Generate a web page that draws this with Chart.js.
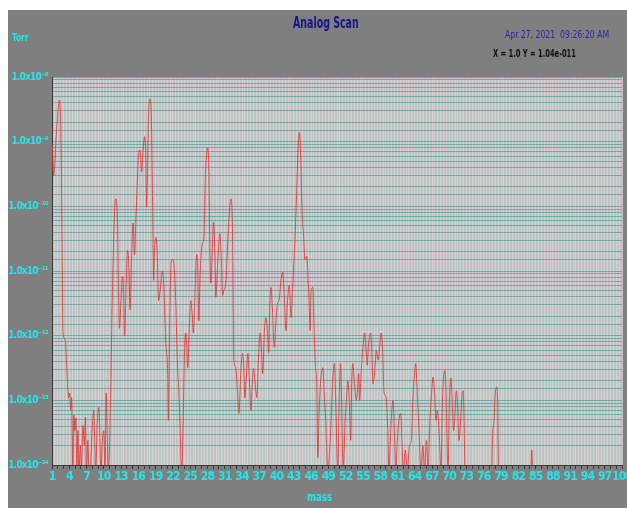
<!DOCTYPE html>
<html lang="en">
<head>
    <meta charset="UTF-8">
    <title>Analog Scan</title>
    <style>
        body {
            margin: 0;
            background: #ffffff;
            overflow: hidden;
            font-family: 'DejaVu Sans Condensed', 'Liberation Sans Narrow', 'Liberation Sans', Arial, sans-serif;
        }
        #panel {
            position: absolute;
            left: 8px;
            top: 10px;
            width: 619px;
            height: 498px;
            background: #7f7f7f;
            overflow: hidden;
        }
        #panel canvas {
            position: absolute;
            left: 0;
            top: 0;
        }
        .txt {
            position: absolute;
            white-space: pre;
            z-index: 2;
            transform-origin: left top;
        }
        #title { left: 285px; top: 4px; font-size: 15px; font-weight: bold; color: #15158c; transform: scaleX(0.7); }
        #torr { left: 4px; top: 21px; font-size: 11px; font-weight: bold; color: #22e6ea; transform: scaleX(0.75); }
        #stamp { left: 497px; top: 18px; font-size: 11px; color: #2a2aa6; transform: scaleX(0.78); }
        #readout { left: 485px; top: 37px; font-size: 11px; font-weight: bold; color: #111111; transform: scaleX(0.68); }
        #massTitle { left: 299px; top: 480px; font-size: 12px; font-weight: bold; color: #22e6ea; transform: scaleX(0.8); }
    </style>
</head>
<body>
    <div id="panel">
        <div class="txt" id="title">Analog Scan</div>
        <div class="txt" id="torr">Torr</div>
        <div class="txt" id="stamp">Apr 27, 2021  09:26:20 AM</div>
        <div class="txt" id="readout">X = 1.0 Y = 1.04e-011</div>
        <div class="txt" id="massTitle">mass</div>
        <canvas id="scan" width="640" height="498"></canvas>
    </div>

    <script src="https://cdn.jsdelivr.net/npm/chart.js@4.4.1/dist/chart.umd.min.js"></script>
    <script>
        // mass (amu) of each sample
        const masses = [
            1.05, 1.31, 1.75, 2.32, 2.53, 2.71, 2.92, 3.32, 3.58, 3.89,
            4.07, 4.24, 4.41, 4.62, 4.80, 4.97, 5.15, 5.32, 5.49, 5.67,
            5.93, 6.10, 6.37, 6.63, 6.80, 6.98, 7.24, 7.41, 7.67, 7.93,
            8.25, 8.42, 8.60, 8.81, 8.98, 9.15, 9.33, 9.50, 9.76, 9.99,
            10.20, 10.41, 10.58, 10.76, 10.98, 11.16, 11.50, 11.85, 12.06, 12.38,
            12.55, 12.72, 12.99, 13.25, 13.42, 13.60, 13.86, 14.12, 14.38, 14.55,
            14.82, 15.08, 15.34, 15.60, 15.77, 15.98, 16.21, 16.38, 16.56, 16.82,
            17.08, 17.25, 17.43, 17.60, 17.80, 18.02, 18.25, 18.47, 18.65, 18.82,
            19.05, 19.26, 19.52, 19.78, 20.16, 20.39, 20.74, 21.09, 21.21, 21.44,
            21.70, 21.96, 22.22, 22.48, 22.83, 23.00, 23.18, 23.53, 23.79, 24.05,
            24.22, 24.40, 24.57, 24.83, 25.09, 25.36, 25.56, 25.79, 26.14, 26.31,
            26.49, 26.75, 27.13, 27.36, 27.62, 28.00, 28.23, 28.40, 28.58, 28.84,
            29.05, 29.27, 29.45, 29.71, 30.15, 30.41, 30.62, 30.84, 31.19, 31.54,
            32.06, 32.32, 32.59, 32.93, 33.19, 33.46, 33.80, 34.10, 34.33, 34.50,
            34.76, 35.03, 35.29, 35.55, 35.81, 36.02, 36.25, 36.59, 36.85, 37.17,
            37.38, 37.59, 37.90, 38.16, 38.42, 38.63, 38.86, 39.03, 39.29, 39.61,
            39.90, 40.20, 40.43, 40.77, 41.07, 41.30, 41.64, 41.91, 42.22, 42.34,
            42.52, 42.78, 43.09, 43.39, 43.73, 43.96, 44.17, 44.43, 44.69, 44.95,
            45.25, 45.48, 45.65, 45.83, 46.00, 46.30, 46.52, 46.78, 46.96, 47.17,
            47.39, 47.66, 48.04, 48.26, 48.53, 48.91, 49.22, 49.48, 49.75, 50.06,
            50.27, 50.65, 50.88, 51.10, 51.31, 51.57, 51.92, 52.18, 52.39, 52.62,
            52.88, 53.06, 53.26, 53.49, 53.84, 54.05, 54.24, 54.45, 54.71, 55.01,
            55.29, 55.50, 55.76, 55.97, 56.33, 56.54, 56.75, 57.06, 57.32, 57.67,
            57.93, 58.19, 58.46, 58.67, 58.89, 59.07, 59.33, 59.50, 59.76, 60.02,
            60.23, 60.46, 60.72, 60.98, 61.24, 61.56, 61.77, 62.03, 62.38, 62.72,
            63.07, 63.42, 63.68, 63.94, 64.17, 64.38, 64.59, 64.81, 65.08, 65.42,
            65.69, 66.03, 66.30, 66.64, 66.91, 67.20, 67.42, 67.69, 67.90, 68.07,
            68.30, 68.56, 68.82, 69.00, 69.22, 69.43, 69.61, 69.78, 70.04, 70.27,
            70.48, 70.74, 70.97, 71.13, 71.26, 71.47, 71.66, 71.84, 72.05, 72.22,
            72.43, 72.57, 72.74, 75.00, 77.36, 77.53, 77.79, 77.97, 78.23, 78.40,
            78.58, 84.15, 84.33, 84.50, 100.0
        ];

        // partial pressure (Torr) at each mass; 8e-15 = below the 1e-14 floor
        const pressures = [
            8.9e-10, 3.0e-10, 1.3e-9, 4.4e-9, 1.5e-9, 6.1e-11, 1.1e-12, 8.5e-13, 2.9e-13, 1.1e-13,
            1.3e-13, 7.0e-14, 1.1e-13, 8e-15, 5.9e-14, 3.4e-14, 5.3e-14, 8e-15, 3.4e-14, 8e-15,
            2.0e-14, 8e-15, 4.1e-14, 2.0e-14, 5.5e-14, 8e-15, 2.4e-14, 8e-15, 8e-15, 2.9e-14,
            7.0e-14, 2.4e-14, 8e-15, 3.4e-14, 6.5e-14, 7.8e-14, 2.4e-14, 8e-15, 2.4e-14, 3.4e-14,
            8e-15, 1.3e-13, 3.4e-14, 8e-15, 1.7e-14, 1.0e-13, 5.0e-12, 7.3e-11, 1.3e-10, 6.1e-11,
            5.0e-12, 1.3e-12, 3.5e-12, 8.3e-12, 5.0e-12, 1.0e-12, 5.0e-12, 2.1e-11, 1.0e-11, 2.5e-12,
            1.5e-11, 5.5e-11, 1.8e-11, 7.3e-11, 1.8e-10, 5.6e-10, 7.4e-10, 6.2e-10, 3.4e-10, 7.4e-10,
            1.2e-9, 7.4e-10, 9.7e-11, 3.6e-10, 3.1e-9, 4.6e-9, 2.6e-9, 1.2e-10, 7.2e-12, 2.1e-11,
            3.3e-11, 2.1e-11, 3.5e-12, 5.0e-12, 1.0e-11, 7.2e-12, 8.5e-13, 2.6e-13, 4.9e-14, 1.2e-12,
            1.4e-11, 1.5e-11, 1.2e-11, 3.5e-12, 2.9e-13, 1.6e-13, 5.9e-14, 8e-15, 4.9e-14, 7.1e-13,
            1.1e-12, 7.1e-13, 3.2e-13, 1.2e-12, 3.5e-12, 2.1e-12, 1.1e-12, 3.5e-12, 1.8e-11, 1.2e-11,
            1.7e-12, 1.0e-11, 2.7e-11, 3.0e-11, 2.5e-10, 8.0e-10, 4.3e-10, 3.0e-11, 6.5e-12, 2.1e-11,
            5.7e-11, 2.1e-11, 3.9e-12, 1.0e-11, 3.8e-11, 1.5e-11, 4.2e-12, 5.0e-12, 6.5e-12, 3.0e-11,
            1.3e-10, 6.1e-11, 4.2e-13, 3.2e-13, 1.4e-13, 6.3e-14, 2.9e-13, 5.3e-13, 2.9e-13, 1.1e-13,
            2.4e-13, 5.3e-13, 2.0e-13, 7.0e-14, 2.0e-13, 3.1e-13, 2.0e-13, 1.1e-13, 4.2e-13, 1.1e-12,
            5.9e-13, 2.6e-13, 1.2e-12, 1.9e-12, 1.2e-12, 5.5e-13, 3.5e-12, 5.6e-12, 2.5e-12, 6.6e-13,
            1.7e-12, 3.2e-12, 3.5e-12, 7.2e-12, 9.6e-12, 5.0e-12, 1.2e-12, 3.5e-12, 6.0e-12, 4.2e-12,
            1.9e-12, 5.0e-12, 1.9e-11, 8.7e-11, 7.4e-10, 1.4e-9, 7.4e-10, 8.7e-11, 3.6e-11, 1.5e-11,
            1.7e-11, 7.2e-12, 3.5e-12, 1.2e-12, 5.0e-12, 5.6e-12, 1.2e-12, 3.2e-13, 2.0e-13, 1.3e-14,
            6.3e-14, 2.0e-13, 3.2e-13, 1.4e-13, 4.9e-14, 8e-15, 1.7e-14, 4.9e-14, 2.0e-13, 3.7e-13,
            1.0e-13, 8e-15, 1.0e-13, 3.7e-13, 1.0e-13, 8e-15, 4.9e-14, 1.2e-13, 2.0e-13, 1.0e-13,
            2.4e-14, 2.0e-13, 3.7e-13, 2.0e-13, 1.0e-13, 1.4e-13, 2.6e-13, 1.0e-13, 2.9e-13, 6.6e-13,
            1.1e-12, 7.1e-13, 3.5e-13, 7.1e-13, 1.1e-12, 5.9e-13, 1.8e-13, 2.9e-13, 5.9e-13, 4.2e-13,
            7.1e-13, 1.1e-12, 5.0e-13, 1.3e-13, 1.2e-13, 1.0e-13, 3.4e-14, 8e-15, 2.4e-14, 7.0e-14,
            1.0e-13, 3.4e-14, 8e-15, 2.4e-14, 4.9e-14, 6.3e-14, 2.4e-14, 8e-15, 1.7e-14, 8e-15,
            2.0e-14, 2.4e-14, 1.0e-13, 2.4e-13, 3.7e-13, 1.7e-13, 7.0e-14, 2.4e-14, 8e-15, 2.0e-14,
            8e-15, 2.4e-14, 8e-15, 4.9e-14, 1.2e-13, 2.3e-13, 1.4e-13, 4.9e-14, 7.0e-14, 5.5e-14,
            2.4e-14, 8e-15, 1.0e-13, 2.2e-13, 2.9e-13, 1.4e-13, 2.4e-14, 8e-15, 1.0e-13, 2.2e-13,
            1.2e-13, 3.4e-14, 5.5e-14, 1.2e-13, 1.4e-13, 7.0e-14, 2.4e-14, 3.1e-14, 7.0e-14, 1.3e-13,
            1.4e-13, 4.9e-14, 8e-15, 8e-15, 8e-15, 3.1e-14, 4.9e-14, 1.2e-13, 1.6e-13, 1.0e-13,
            8e-15, 8e-15, 1.7e-14, 8e-15, 8e-15
        ];

        // x axis labels every 3 amu, y axis labelled at each decade
        const massLabels = [1, 4, 7, 10, 13, 16, 19, 22, 25, 28, 31, 34, 37, 40, 43, 46, 49,
            52, 55, 58, 61, 64, 67, 70, 73, 76, 79, 82, 85, 88, 91, 94, 97, 100];
        const decades = [1e-8, 1e-9, 1e-10, 1e-11, 1e-12, 1e-13, 1e-14];

        if (masses.length !== pressures.length) {
            throw new Error('length mismatch ' + masses.length + ' vs ' + pressures.length);
        }

        const supMap = { '-': '\u207B', '0': '\u2070', '1': '\u00B9', '2': '\u00B2', '3': '\u00B3',
            '4': '\u2074', '5': '\u2075', '6': '\u2076', '7': '\u2077', '8': '\u2078', '9': '\u2079' };
        function decadeLabel(v) {
            const e = String(Math.round(Math.log10(v)));
            return '1.0x10' + e.split('').map(c => supMap[c]).join('');
        }

        const fontFamily = "'DejaVu Sans Condensed', 'Liberation Sans Narrow', 'Liberation Sans', Arial, sans-serif";
        const cyan = '#22e6ea';

        // fill the plot area and tighten the tick label text
        const plotBg = {
            id: 'plotBg',
            beforeDraw(chart) {
                const { ctx, chartArea: a } = chart;
                ctx.letterSpacing = '-0.8px';
                ctx.save();
                ctx.fillStyle = '#bcc4c4';
                ctx.fillRect(a.left, a.top, a.right - a.left, a.bottom - a.top);
                ctx.restore();
            }
        };

        const points = masses.map((m, i) => ({ x: m, y: pressures[i] }));

        new Chart(document.getElementById('scan'), {
            type: 'line',
            data: {
                datasets: [{
                    data: points,
                    borderColor: 'rgba(232,45,45,0.82)',
                    borderWidth: 1,
                    pointRadius: 0,
                    cubicInterpolationMode: 'monotone',
                    fill: false
                }]
            },
            options: {
                responsive: false,
                animation: false,
                layout: { padding: { left: 0, top: 67, right: 26, bottom: 0 } },
                plugins: {
                    legend: { display: false },
                    tooltip: { enabled: false }
                },
                scales: {
                    x: {
                        type: 'linear',
                        min: 1,
                        max: 100,
                        afterFit(scale) { scale.height = 43; },
                        ticks: {
                            stepSize: 0.5,
                            autoSkip: false,
                            maxRotation: 0,
                            padding: 1,
                            color: cyan,
                            font: { family: fontFamily, size: 12, weight: 'bold' },
                            callback: v => massLabels.includes(v) ? String(v) : ''
                        },
                        grid: {
                            color: 'rgba(225,215,215,0.75)',
                            lineWidth: 1,
                            tickLength: 4,
                            tickColor: ctx => (ctx.tick && Number.isInteger(ctx.tick.value)) ? '#3a3a3a' : 'rgba(0,0,0,0)'
                        },
                        border: { color: '#3a3a3a', width: 1 }
                    },
                    y: {
                        type: 'logarithmic',
                        min: 1e-14,
                        max: 1e-8,
                        afterFit(scale) { scale.width = 44; },
                        ticks: {
                            autoSkip: false,
                            padding: 4,
                            color: cyan,
                            font: { family: fontFamily, size: 10, weight: 'bold' },
                            callback: v => decades.some(d => Math.abs(v / d - 1) < 1e-6) ? decadeLabel(v) : ''
                        },
                        grid: {
                            color: 'rgba(70,150,150,0.65)',
                            lineWidth: 1,
                            drawTicks: false
                        },
                        border: { color: '#3a3a3a', width: 1 }
                    }
                }
            },
            plugins: [plotBg]
        });
    </script>
</body>
</html>
